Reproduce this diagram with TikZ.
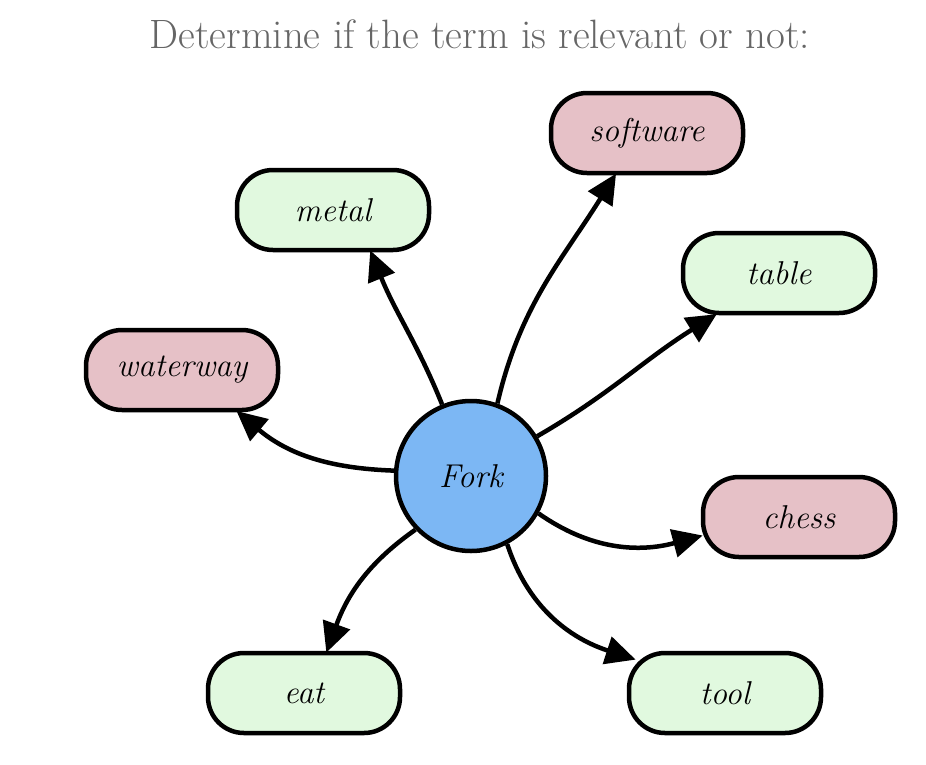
\documentclass[tikz,border=0pt]{standalone}
\usepackage{fontspec}
\usetikzlibrary{arrows.meta,calc}
\definecolor{termgreen}{HTML}{E1F9DF}
\definecolor{termpink}{HTML}{E6C1C7}
\definecolor{forkblue}{HTML}{7CB7F4}
\definecolor{titlegray}{HTML}{666666}
\tikzset{
  term/.style={draw=black, line width=4.5pt, rounded corners=36pt, minimum width=192pt, minimum height=80pt, inner sep=0pt, font=\fontsize{33}{40}\selectfont\itshape},
  good/.style={term, fill=termgreen},
  bad/.style={term, fill=termpink},
  hub/.style={draw=black, circle, line width=4.5pt, fill=forkblue, minimum size=150pt, inner sep=0pt, font=\fontsize{33}{40}\selectfont\itshape},
  link/.style={line width=4.5pt, -{Triangle[length=30pt,width=28pt]}, shorten >=-2pt},
}
\begin{document}
\begin{tikzpicture}[x=1pt,y=-1pt]
\useasboundingbox (0,0) rectangle (926,764);
\node[font=\fontsize{41}{48}\selectfont, text=titlegray] (title) at (480,34) {Determine if the term is relevant or not:};
\node[hub] (fork) at (471,476) {Fork};
\node[bad] (software) at (647,133) {software};
\node[good] (metal) at (333,210) {metal};
\node[good] (table) at (779,273) {table};
\node[bad] (waterway) at (182,370) {waterway};
\node[bad] (chess) at (799,517) {chess};
\node[good] (eat) at (304,693) {eat};
\node[good] (tool) at (725,693) {tool};
\draw[link] (fork.112) to[out=112,in=-68] ($(metal.south)+(38,0)$);
\draw[link] (fork.70) to[out=77,in=-122] ($(software.south)+(-32,0)$);
\draw[link] (fork.31) to[out=30,in=-148] ($(table.south)+(-64,0)$);
\draw[link] (fork.176) to[out=178,in=-40] ($(waterway.south)+(56,0)$);
\draw[link] (fork.-29) to[out=-35,in=195] ($(chess.west)+(0,19)$);
\draw[link] (fork.224) to[out=215,in=70] ($(eat.north)+(23,0)$);
\draw[link] (fork.-62) to[out=-72,in=162] ($(tool.west)+(7,-34)$);
\end{tikzpicture}
\end{document}
